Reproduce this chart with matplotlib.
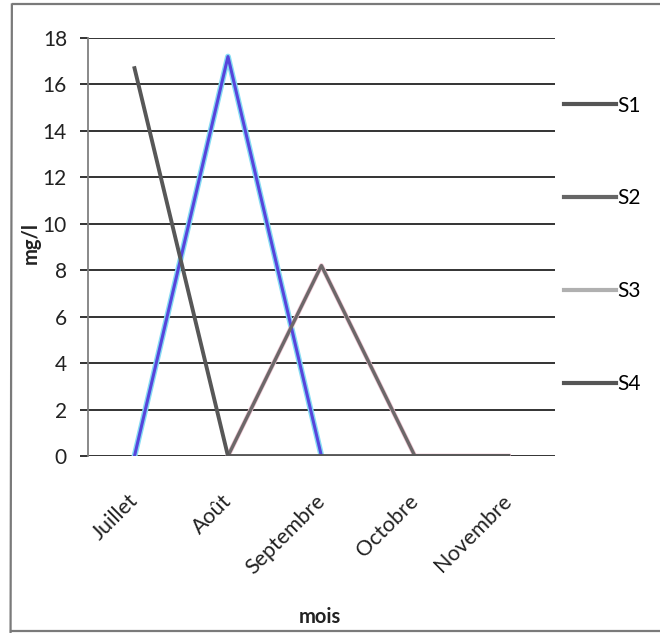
import numpy as np
import matplotlib.pyplot as plt
import matplotlib.transforms as mtransforms
from matplotlib.lines import Line2D

plt.rcParams['font.family'] = ['Lato', 'DejaVu Sans']

# Monthly concentrations (mg/l) per station
mois = ['Juillet', 'Août', 'Septembre', 'Octobre', 'Novembre']
s1 = [16.7, 0, 0, 0, 0]
s2 = [np.nan, 0, 8.2, 0, 0]
s3 = [0, 17.2, 0, np.nan, np.nan]
s4 = [np.nan, np.nan, np.nan, np.nan, np.nan]
yticks = [0, 2, 4, 6, 8, 10, 12, 14, 16, 18]

fig = plt.figure(figsize=(6.6, 6.33), dpi=100)
ax = fig.add_axes([0.133, 0.2796, 0.708, 0.6604])

x = np.arange(len(mois))

# horizontal grid drawn as part of the axes
ax.set_ylim(0, 18)
ax.set_xlim(-0.5, 4.5)
ax.set_yticks(yticks)
ax.grid(axis='y', color='#333333', lw=1.4)
ax.set_axisbelow(True)

# lines with a coloured fringe underneath
ax.plot(x, s3, color='#86dcf3', lw=4.2, zorder=3)
ax.plot(x, s3, color='#5645dc', lw=2.2, zorder=4)
ax.plot(x, s2, color='#f0c4d2', lw=3.4, zorder=3)
ax.plot(x, s2, color='#6c6869', lw=2.4, zorder=4)
ax.plot(x, s1, color='#575757', lw=2.8, zorder=5)
ax.plot(x, s4, color='#555555', lw=2.8, zorder=5)

for side in ['top', 'right', 'bottom']:
    ax.spines[side].set_visible(False)
ax.spines['left'].set_color('#808080')
ax.spines['left'].set_linewidth(1.3)

ax.tick_params(axis='y', length=6, color='#333333', width=1.4, pad=9,
               labelsize=15, labelcolor='#222222')
ax.set_xticks(x)
ax.set_xticklabels(mois, rotation=45, ha='right', va='top',
                   rotation_mode='anchor', fontsize=15.5, color='#222222')
ax.tick_params(axis='x', length=0, pad=25)
shift = mtransforms.ScaledTranslation(-5 / 72, 0, fig.dpi_scale_trans)
for lbl in ax.get_xticklabels():
    lbl.set_transform(lbl.get_transform() + shift)

ax.set_ylabel('mg/l', fontsize=14.5, fontweight='bold', color='#222222')
ax.yaxis.set_label_coords(-0.10, 0.51)
ax.set_xlabel('mois', fontsize=14.5, fontweight='bold', color='#222222')
ax.xaxis.set_label_coords(0.497, -0.36)

handles = [Line2D([0], [0], color='#555555', lw=3),
           Line2D([0], [0], color='#666666', lw=3),
           Line2D([0], [0], color='#b0b0b0', lw=3),
           Line2D([0], [0], color='#555555', lw=3)]
fig.legend(handles, ['S1', 'S2', 'S3', 'S4'], loc='upper left',
           bbox_to_anchor=(0.855, 0.849), frameon=False, fontsize=15,
           labelspacing=3.5, handlelength=2.5, handletextpad=0.05,
           borderpad=0, borderaxespad=0)

# outer chart border
frame = dict(color='#7a7a7a', lw=1.6, transform=fig.transFigure)
fig.add_artist(Line2D([0.02, 1.0], [0.993, 0.993], **frame))
fig.add_artist(Line2D([0.018, 0.016], [0.993, 0.0], **frame))
fig.add_artist(Line2D([0.016, 1.0], [0.003, 0.003], **frame))

fig.savefig('out.png', dpi=100)
